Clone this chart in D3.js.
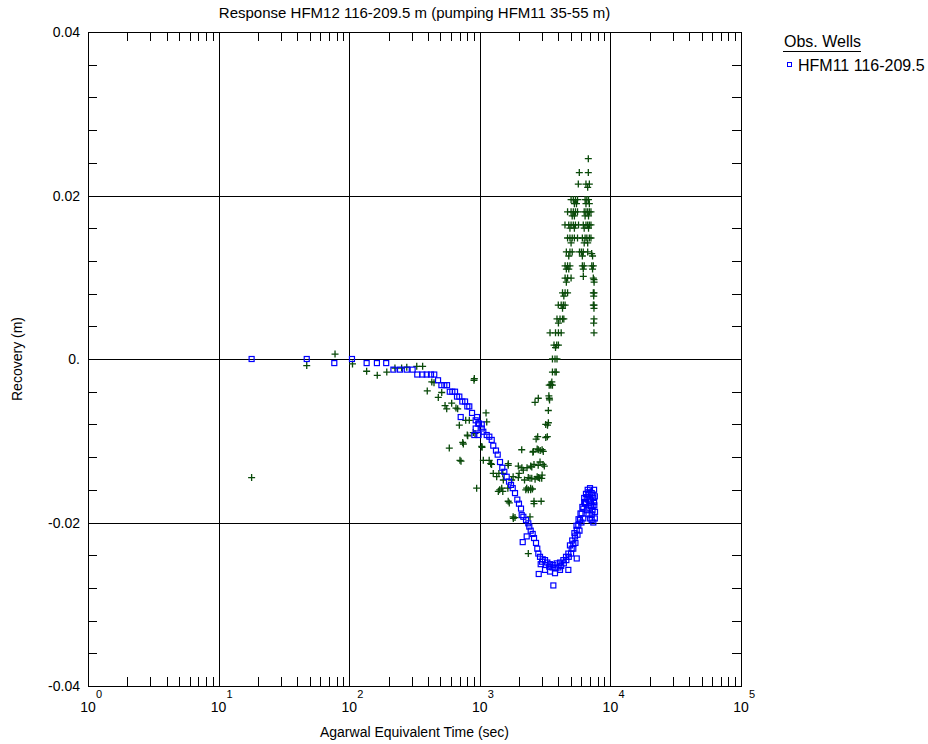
<!DOCTYPE html>
<html><head><meta charset="utf-8">
<script src="https://cdn.jsdelivr.net/npm/d3@7"></script>
<style>body{margin:0;background:#fff}svg{display:block}text{font-family:"Liberation Sans",Arial,Helvetica,sans-serif}</style>
</head><body><svg id="c" width="928" height="744"></svg>
<script>
const chartTitle = "Response HFM12 116-209.5 m (pumping HFM11 35-55 m)";
const xLabel = "Agarwal Equivalent Time (sec)";
const yLabel = "Recovery (m)";
const legendTitle = "Obs. Wells";
const seriesName = "HFM11 116-209.5";
const xDecades = [0, 1, 2, 3, 4, 5];
const yMajorTicks = [0.04, 0.02, 0, -0.02, -0.04];
const yTickLabels = ["0.04", "0.02", "0.", "-0.02", "-0.04"];

// Observed recovery (blue squares): [time s, recovery m]
const obsPoints = [
 [17.9,0],[47.3,0],[76.9,-0.0005],[105,0],[136,-0.0005],[163,-0.0005],[192,-0.0005],
 [218,-0.0013],[245,-0.0013],[276,-0.0013],[306,-0.0013],
 [332,-0.0019],[363,-0.0019],[392,-0.0019],[423,-0.0019],[448,-0.0019],
 [479,-0.0026],[508,-0.0032],[535,-0.0032],[561,-0.0032],
 [589,-0.0040],[616,-0.0040],[646,-0.0040],[669,-0.0046],[697,-0.0046],
 [735,-0.0052],[771,-0.0052],[802,-0.0058],[831,-0.0058],[872,-0.0066],
 [714,-0.0071],[952,-0.0071],[930,-0.0075],[973,-0.0079],[930,-0.0085],[908,-0.0093],[978,-0.0093],
 [986,-0.0079],[1035,-0.0080],[1035,-0.0085],[1064,-0.0089],[1130,-0.0093],[1183,-0.0095],
 [1234,-0.0099],[1268,-0.0106],[1330,-0.0112],[1371,-0.0117],[1428,-0.0126],[1487,-0.0133],
 [1541,-0.0138],[1607,-0.0144],[1674,-0.0150],[1734,-0.0154],[1787,-0.0158],[1860,-0.0164],
 [1937,-0.0172],[1995,-0.0177],[2068,-0.0183],[2094,-0.0191],[2155,-0.0193],[2259,-0.0197],
 [2352,-0.0201],[2394,-0.0205],[2453,-0.0210],[2541,-0.0214],[2601,-0.0219],[2694,-0.0225],
 [2755,-0.0232],[2805,-0.0238],[2891,-0.0242],[3033,-0.0245],[3158,-0.0246],[3288,-0.0249],
 [3449,-0.0251],[3657,-0.0252],[3881,-0.0250],[4114,-0.0249],[4362,-0.0246],[4573,-0.0242],
 [4763,-0.0238],[5054,-0.0232],[5202,-0.0226],[5359,-0.0217],[5524,-0.0209],[5679,-0.0203],
 [5849,-0.0197],[6026,-0.0189],[6204,-0.0183],[6392,-0.0177],[6580,-0.0169],[6775,-0.0163],
 [6980,-0.0158],[7190,-0.0164],[7400,-0.0170],[7535,-0.0179],[7621,-0.0187],[7190,-0.0197],
 [2131,-0.0224],[2286,-0.0217],[2926,-0.0251],[2826,-0.0263],[3158,-0.0258],[3449,-0.0260],
 [3766,-0.0262],[3657,-0.0277],[4114,-0.0258],[4763,-0.0258],[5524,-0.0244],
 [3000,-0.0248],[3200,-0.0252],[3400,-0.0254],[3600,-0.0255],[3800,-0.0256],[4000,-0.0255],
 [4200,-0.0253],[4400,-0.0250],[4600,-0.0246],[4800,-0.0242],[5000,-0.0238],[5200,-0.0232],
 [5400,-0.0225],[5600,-0.0215],[5800,-0.0210],[6000,-0.0200],[6200,-0.0195],
 [4900,-0.0228],[5100,-0.0222],[5300,-0.0213],[5500,-0.0204],[5700,-0.0196],[5900,-0.0189],
 [6100,-0.0181],[6300,-0.0170],[6500,-0.0176],[6700,-0.0172],[6900,-0.0182],[7100,-0.0174],
 [7300,-0.0166],[7500,-0.0160],[6300,-0.0175],[6500,-0.0165],[6700,-0.0160],[6900,-0.0165],
 [7000,-0.0172],[7100,-0.0180],[7300,-0.0185],[7500,-0.0175],[7600,-0.0168],[6600,-0.0185],
 [6800,-0.0190],[7000,-0.0195],[7200,-0.0190],[7400,-0.0200],[7600,-0.0195],[7300,-0.0180]
];

// Second series (dark green plus signs): [time s, recovery m]
const derivPoints = [
 [17.9,-0.0145],[47.3,-0.0008],[77.9,0.0006],[106,-0.0006],[136,-0.0015],[164,-0.0020],
 [194,-0.0016],[224,-0.0011],[252,-0.0011],[276,-0.0010],[329,-0.0009],[365,-0.0009],
 [429,-0.0028],[446,-0.0029],[396,-0.0039],[511,-0.0041],[481,-0.0047],[609,-0.0054],
 [542,-0.0057],[558,-0.0061],[657,-0.0060],[677,-0.0061],[780,-0.0075],[831,-0.0075],
 [697,-0.0081],[908,-0.0024],[892,-0.0090],[808,-0.0094],[748,-0.0104],[584,-0.0109],
 [718,-0.0125],[946,-0.0158],[903,-0.0026],[1116,-0.0066],[1130,-0.0077],[802,-0.0093],
 [740,-0.0102],[705,-0.0124],[919,-0.0091],[1035,-0.0107],[1064,-0.0124],[1211,-0.0128],
 [1268,-0.0140],[1347,-0.0144],[1386,-0.0162],[1472,-0.0158],[1514,-0.0148],[1652,-0.0128],
 [1682,-0.0176],[1860,-0.0194],[1754,-0.0148],[1972,-0.0131],[1972,-0.0145],[2094,-0.0111],
 [2155,-0.0136],[2286,-0.0158],[2352,-0.0160],[2453,-0.0131],[2423,-0.0146],[2601,-0.0177],
 [2805,-0.0145],[2979,-0.0146],[2570,-0.0113],[2805,-0.0111],[3063,-0.0113],[3120,-0.0131],
 [2891,-0.0126],[2775,-0.0095],[3288,-0.0095],[3198,-0.0080],[3348,-0.0063],[3405,-0.0048],
 [2805,-0.0048],[2647,-0.0053],[3492,-0.0031],[2352,-0.0238],[1805,-0.0195],[2423,-0.0193],
 [1040,-0.0108],[1180,-0.0124],[1230,-0.0129],[1400,-0.0140],[1500,-0.0140],[1650,-0.0130],
 [2100,-0.0133],[2300,-0.0133],[2500,-0.0132],[1800,-0.0144],[2000,-0.0140],[2200,-0.0148],
 [2350,-0.0145],[2750,-0.0144],[3000,-0.0142],[1420,-0.0160],[1500,-0.0162],[1640,-0.0158],
 [2250,-0.0160],[2450,-0.0160],[2600,-0.0174],[2950,-0.0174],[1650,-0.0174],[1800,-0.0193],
 [2750,-0.0110],[2900,-0.0112],[3000,-0.0111],[2700,-0.0098],[3200,-0.0096],[2550,-0.0114],
 [2600,-0.0129],[2800,-0.0130],[3050,-0.0129],[2500,-0.0146],[2650,-0.0147],[2870,-0.0146],
 [2450,-0.0158],[2530,-0.0159],[3300,-0.0081],[3350,-0.0078],[3420,-0.0050],[3380,-0.0045],
 [3500,-0.0032],[3560,-0.0028],
 [3400,-0.0032],[3600,-0.0032],[3600,-0.0016],[3766,-0.0016],[3850,-0.0016],
 [3600,0.0000],[3766,0.0000],[3900,0.0000],[3700,0.0017],[3881,0.0017],[4000,0.0017],[3800,0.0014],
 [3449,0.0032],[3800,0.0032],[4000,0.0032],[4200,0.0032],[7485,0.0032],
 [3900,0.0049],[4114,0.0049],[4300,0.0049],[4400,0.0049],[7485,0.0049],[4000,0.0044],[7450,0.0044],
 [3990,0.0066],[4200,0.0066],[4362,0.0066],[4500,0.0066],[7400,0.0066],[7500,0.0066],[4300,0.0062],[7485,0.0062],
 [4300,0.0081],[4500,0.0081],[4700,0.0081],[7400,0.0081],[7500,0.0081],[4400,0.0077],[7450,0.0077],
 [4500,0.0099],[4700,0.0099],[5000,0.0099],[6204,0.0101],[7485,0.0097],[7400,0.0099],[4600,0.0094],[7500,0.0094],
 [4500,0.0114],[4700,0.0114],[4900,0.0114],[6100,0.0114],[6300,0.0114],[7200,0.0114],[7400,0.0114],
 [4600,0.0110],[4800,0.0110],[6200,0.0110],[7300,0.0110],
 [4600,0.0131],[4900,0.0131],[5100,0.0131],[5800,0.0131],[6000,0.0131],[6200,0.0131],[6700,0.0131],[7190,0.0129],
 [4800,0.0126],[6100,0.0126],[7300,0.0126],
 [4700,0.0148],[4900,0.0148],[5100,0.0148],[5300,0.0148],[5600,0.0148],[6100,0.0148],[6400,0.0148],[6600,0.0148],[6900,0.0148],[7100,0.0148],
 [5000,0.0142],[6300,0.0142],[6700,0.0142],
 [4490,0.0164],[4800,0.0164],[5000,0.0164],[5200,0.0164],[5400,0.0164],[5700,0.0164],[6200,0.0164],[6500,0.0164],[6700,0.0164],[6900,0.0164],[7100,0.0164],
 [4900,0.0160],[5300,0.0160],[6300,0.0160],[6800,0.0160],
 [4700,0.0180],[5000,0.0180],[5200,0.0180],[5400,0.0180],[5600,0.0180],[6300,0.0180],[6500,0.0180],[6700,0.0180],[6900,0.0180],[7100,0.0180],
 [5100,0.0175],[5300,0.0175],[6400,0.0175],[6800,0.0175],
 [5000,0.0195],[5200,0.0195],[5400,0.0195],[5600,0.0195],[6400,0.0195],[6600,0.0195],[6800,0.0195],
 [5300,0.0190],[5500,0.0190],[6500,0.0190],[6900,0.0190],
 [5679,0.0214],[6500,0.0214],[6900,0.0214],[6700,0.0210],
 [5781,0.0228],[6775,0.0228],[6775,0.0245]
];

const M = {left: 88, right: 741, top: 32, bottom: 686};
const svg = d3.select("#c");
const x = d3.scaleLog().domain([1, 1e5]).range([M.left, M.right]);
const y = d3.scaleLinear().domain([-0.04, 0.04]).range([M.bottom, M.top]);

const g = svg.append("g");
const minorX = [];
for (let d = 0; d < 5; d++) for (let k = 2; k <= 9; k++) minorX.push(k * Math.pow(10, d));
g.selectAll(".mxb").data(minorX).join("line")
  .attr("x1", d => Math.round(x(d)) + 0.5).attr("x2", d => Math.round(x(d)) + 0.5)
  .attr("y1", M.bottom).attr("y2", M.bottom - 9).attr("stroke", "#000");
g.selectAll(".mxt").data(minorX).join("line")
  .attr("x1", d => Math.round(x(d)) + 0.5).attr("x2", d => Math.round(x(d)) + 0.5)
  .attr("y1", M.top).attr("y2", M.top + 9).attr("stroke", "#000");
const minorY = d3.range(-0.036, 0.037, 0.004).filter(v => Math.abs(Math.round(v / 0.02) * 0.02 - v) > 1e-6);
g.selectAll(".myl").data(minorY).join("line")
  .attr("x1", M.left).attr("x2", M.left + 9)
  .attr("y1", d => Math.round(y(d)) + 0.5).attr("y2", d => Math.round(y(d)) + 0.5).attr("stroke", "#000");
g.selectAll(".myr").data(minorY).join("line")
  .attr("x1", M.right).attr("x2", M.right - 9)
  .attr("y1", d => Math.round(y(d)) + 0.5).attr("y2", d => Math.round(y(d)) + 0.5).attr("stroke", "#000");
g.selectAll(".gx").data(xDecades.slice(1, -1)).join("line")
  .attr("x1", d => Math.round(x(Math.pow(10, d))) + 0.5).attr("x2", d => Math.round(x(Math.pow(10, d))) + 0.5)
  .attr("y1", M.top).attr("y2", M.bottom).attr("stroke", "#000");
g.selectAll(".gy").data(yMajorTicks.slice(1, -1)).join("line")
  .attr("x1", M.left).attr("x2", M.right)
  .attr("y1", d => Math.round(y(d)) + 0.5).attr("y2", d => Math.round(y(d)) + 0.5).attr("stroke", "#000");
g.append("rect").attr("x", M.left + 0.5).attr("y", M.top + 0.5)
  .attr("width", M.right - M.left).attr("height", M.bottom - M.top)
  .attr("fill", "none").attr("stroke", "#000");

g.selectAll(".yl").data(yMajorTicks).join("text")
  .attr("x", M.left - 8).attr("y", d => y(d) + 5)
  .attr("text-anchor", "end").attr("font-size", 14).attr("fill", "#000")
  .text((d, i) => yTickLabels[i]);
g.selectAll(".xb").data(xDecades).join("text")
  .attr("x", d => x(Math.pow(10, d))).attr("y", 712)
  .attr("text-anchor", "middle").attr("font-size", 14).attr("fill", "#000").text("10");
g.selectAll(".xe").data(xDecades).join("text")
  .attr("x", d => x(Math.pow(10, d)) + 8).attr("y", 698)
  .attr("font-size", 11).attr("fill", "#000").text(d => d);

svg.append("text").attr("x", (M.left + M.right) / 2).attr("y", 18)
  .attr("text-anchor", "middle").attr("font-size", 15).text(chartTitle);
svg.append("text").attr("x", (M.left + M.right) / 2).attr("y", 737)
  .attr("text-anchor", "middle").attr("font-size", 14).text(xLabel);
svg.append("text").attr("transform", `translate(22,${(M.top + M.bottom) / 2}) rotate(-90)`)
  .attr("text-anchor", "middle").attr("font-size", 14).text(yLabel);

const plot = svg.append("g");
plot.selectAll(".dv").data(derivPoints).join("path")
  .attr("d", d => { const px = x(d[0]), py = y(d[1]);
    return `M${px - 3.5},${py}H${px + 3.5}M${px},${py - 3.5}V${py + 3.5}`; })
  .attr("stroke", "#0a4a0a").attr("stroke-width", 1.3).attr("fill", "none");
plot.selectAll(".ob").data(obsPoints).join("rect")
  .attr("x", d => x(d[0]) - 2.5).attr("y", d => y(d[1]) - 2.5)
  .attr("width", 5).attr("height", 5)
  .attr("fill", "none").attr("stroke", "#0000ff").attr("stroke-width", 1.2);

svg.append("text").attr("x", 784).attr("y", 47).attr("font-size", 16).text(legendTitle);
svg.append("line").attr("x1", 783).attr("x2", 861).attr("y1", 51.5).attr("y2", 51.5).attr("stroke", "#000");
svg.append("rect").attr("x", 787.5).attr("y", 62.5).attr("width", 4).attr("height", 4)
  .attr("fill", "none").attr("stroke", "#0000ff");
svg.append("text").attr("x", 798).attr("y", 71).attr("font-size", 16).text(seriesName);
</script></body></html>
